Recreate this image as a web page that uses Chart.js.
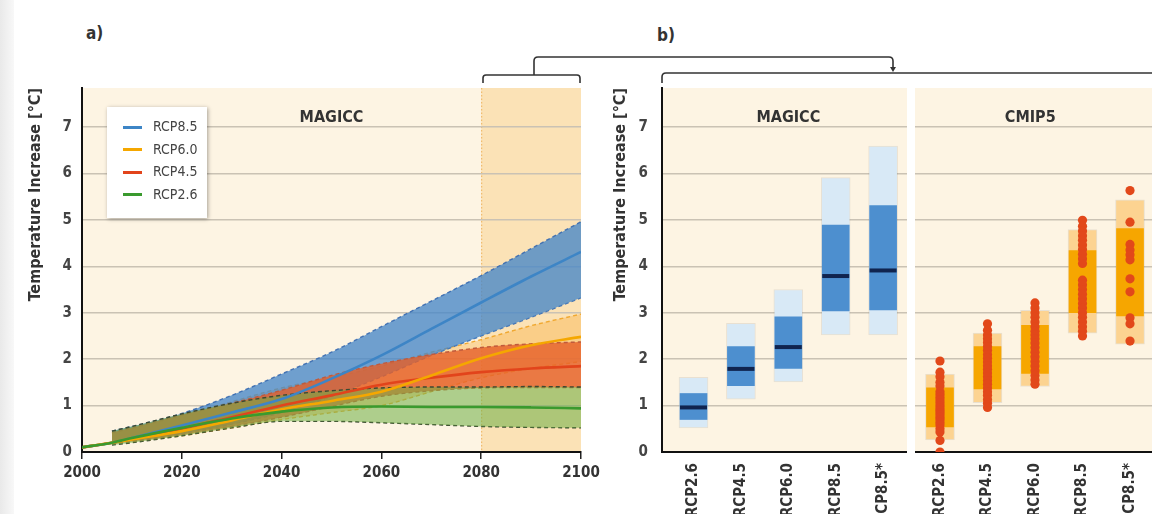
<!DOCTYPE html>
<html>
<head>
<meta charset="utf-8">
<script src="https://cdn.jsdelivr.net/npm/chart.js@4.4.1/dist/chart.umd.min.js"></script>
<style>
  html, body { margin: 0; padding: 0; background: #fff; }
  #page { position: relative; width: 1152px; height: 514px; overflow: hidden; background: #fff;
          font-family: 'Liberation Sans Narrow', 'DejaVu Sans Condensed', 'Noto Sans', sans-serif; }
  .edge { position: absolute; left: 0; top: 0; width: 14px; height: 514px; background: linear-gradient(to right, #e9e9e9, #f8f8f8); }
  .cv { position: absolute; top: 0; }
  .panel-label { position: absolute; font-weight: bold; font-size: 17px; color: #333; }
  #legend { position: absolute; left: 107px; top: 107px; width: 100px; height: 111px; background: #fff;
            box-shadow: 1px 1px 4px rgba(0,0,0,0.35); }
  .lg-item { position: absolute; left: 16px; height: 18px; font-size: 14px; color: #444; line-height: 18px; }
  .lg-item span { display: inline-block; width: 19px; height: 3px; vertical-align: middle; margin-right: 11px; }
</style>
</head>
<body>
<div id="page">
  <div class="edge"></div>
  <div class="panel-label" style="left:86px; top:23px;">a)</div>
  <div class="panel-label" style="left:657px; top:25px;">b)</div>
  <svg width="1152" height="100" style="position:absolute; left:0; top:0;">
    <g fill="none" stroke="#333" stroke-width="1.6">
      <path d="M483 83 V78 Q483 75 486 75 H577 Q580 75 580 78 V83"/>
      <path d="M534 75 V61 Q534 57 538 57 H889 Q893 57 893 61 V68"/>
      <path d="M662 83 V77 Q662 73 666 73 H1152"/>
    </g>
    <path d="M890 67 L893 72 L896 67 Z" fill="#333"/>
  </svg>
  <canvas id="chartA" class="cv" style="left:0px;" width="600" height="514"></canvas>
  <canvas id="chartM" class="cv" style="left:600px;" width="307" height="514"></canvas>
  <canvas id="chartC" class="cv" style="left:915px;" width="260" height="514"></canvas>
  <div id="legend"></div>
</div>
<script>
const FONT = "'Liberation Sans Narrow', 'DejaVu Sans Condensed', 'Noto Sans', sans-serif";

// panel a: MAGICC time series
const years = [2000, 2006, 2010, 2020, 2030, 2040, 2050, 2060, 2070, 2080, 2090, 2100];
const rcp85Mid = [0.1, 0.2, 0.3, 0.57, 0.85, 1.14, 1.58, 2.08, 2.65, 3.22, 3.78, 4.31];
const rcp85Hi = [null, 0.45, 0.55, 0.83, 1.22, 1.68, 2.15, 2.7, 3.25, 3.8, 4.38, 4.96];
const rcp85Lo = [null, 0.2, 0.25, 0.4, 0.6, 0.85, 1.2, 1.62, 2.08, 2.5, 2.9, 3.32];
const rcp60Mid = [0.1, 0.2, 0.27, 0.45, 0.68, 0.92, 1.1, 1.3, 1.65, 2.02, 2.3, 2.48];
const rcp60Hi = [null, 0.4, 0.5, 0.78, 1.08, 1.38, 1.6, 1.85, 2.15, 2.42, 2.72, 2.97];
const rcp60Lo = [null, 0.18, 0.22, 0.35, 0.52, 0.7, 0.85, 1.0, 1.3, 1.6, 1.8, 1.95];
const rcp45Mid = [0.1, 0.2, 0.28, 0.5, 0.75, 1.0, 1.22, 1.45, 1.6, 1.72, 1.8, 1.85];
const rcp45Hi = [null, 0.42, 0.52, 0.8, 1.05, 1.33, 1.65, 1.9, 2.1, 2.25, 2.33, 2.37];
const rcp45Lo = [null, 0.18, 0.23, 0.37, 0.55, 0.75, 0.98, 1.2, 1.32, 1.38, 1.39, 1.39];
const rcp26Mid = [0.1, 0.2, 0.3, 0.52, 0.72, 0.87, 0.96, 0.98, 0.97, 0.97, 0.96, 0.94];
const rcp26Hi = [null, 0.45, 0.55, 0.82, 1.05, 1.22, 1.32, 1.38, 1.4, 1.4, 1.41, 1.4];
const rcp26Lo = [null, 0.15, 0.2, 0.35, 0.52, 0.66, 0.66, 0.63, 0.59, 0.55, 0.53, 0.52];

const legendNames = ['RCP8.5', 'RCP6.0', 'RCP4.5', 'RCP2.6'];
const lineColors = ['#3d85c6', '#f5a700', '#e2441b', '#3a9a2e'];

// panel b: 2081-2100 ranges
const scenarios = ['RCP2.6', 'RCP4.5', 'RCP6.0', 'RCP8.5', 'RCP8.5*'];
const magiccOuterLo = [0.52, 1.14, 1.51, 2.52, 2.52];
const magiccOuterHi = [1.61, 2.77, 3.5, 5.91, 6.59];
const magiccInnerLo = [0.7, 1.43, 1.8, 3.04, 3.06];
const magiccInnerHi = [1.26, 2.27, 2.91, 4.89, 5.31];
const magiccMedian = [0.96, 1.79, 2.26, 3.79, 3.91];

const cmipOuterLo = [0.26, 1.06, 1.41, 2.56, 2.32];
const cmipOuterHi = [1.68, 2.56, 3.05, 4.79, 5.43];
const cmipInnerLo = [0.54, 1.36, 1.69, 3.0, 2.93];
const cmipInnerHi = [1.38, 2.27, 2.73, 4.34, 4.81];
const cmipModels = [
  [1.96, 1.72, 1.62, 1.5, 1.42, 1.3, 1.24, 1.18, 1.12, 1.06, 1.0, 0.95, 0.9, 0.85, 0.8, 0.75, 0.7, 0.64, 0.58, 0.5, 0.43, 0.25, 0.0],
  [2.76, 2.62, 2.52, 2.44, 2.36, 2.27, 2.19, 2.1, 2.02, 1.94, 1.86, 1.78, 1.7, 1.62, 1.54, 1.46, 1.38, 1.3, 1.22, 1.13, 1.05, 0.96],
  [3.21, 3.1, 3.0, 2.9, 2.8, 2.7, 2.6, 2.52, 2.44, 2.35, 2.25, 2.15, 2.05, 1.95, 1.85, 1.75, 1.65, 1.55, 1.46],
  [4.99, 4.86, 4.76, 4.66, 4.56, 4.46, 4.36, 4.26, 4.16, 4.06, 3.7, 3.6, 3.5, 3.4, 3.3, 3.2, 3.1, 3.0, 2.9, 2.8, 2.7, 2.6, 2.5],
  [5.63, 4.95, 4.47, 4.35, 4.25, 4.14, 3.73, 3.45, 2.89, 2.76, 2.39]
];

Chart.defaults.font.family = FONT;
Chart.defaults.animation = false;

const panelDecor = {
  id: 'panelDecor',
  beforeDraw(chart, args, o) {
    const {ctx, chartArea: a, scales} = chart;
    ctx.save();
    ctx.fillStyle = '#fdf4e3';
    ctx.fillRect(a.left, a.top, a.right - a.left, a.bottom - a.top);
    if (o.shadeFrom != null) {
      const x0 = scales.x.getPixelForValue(o.shadeFrom);
      const x1 = scales.x.getPixelForValue(o.shadeTo);
      ctx.fillStyle = '#fbe2b6';
      ctx.fillRect(x0, a.top, x1 - x0, a.bottom - a.top);
      ctx.strokeStyle = '#eeb35c';
      ctx.setLineDash([1.5, 2]);
      ctx.lineWidth = 1;
      ctx.beginPath();
      ctx.moveTo(x0 + 0.5, a.top);
      ctx.lineTo(x0 + 0.5, a.bottom);
      ctx.stroke();
    }
    ctx.restore();
  },
  beforeDatasetsDraw(chart, args, o) {
    if (!o.title) return;
    const {ctx, chartArea: a, scales} = chart;
    ctx.save();
    ctx.font = 'bold 16px ' + FONT;
    ctx.fillStyle = '#333';
    ctx.textAlign = 'center';
    ctx.textBaseline = 'middle';
    ctx.fillText(o.title, scales.x.getPixelForValue(o.titleX), a.top + 30);
    ctx.restore();
  }
};

const intTicks = (scale) => { scale.ticks = [0, 1, 2, 3, 4, 5, 6, 7].map((v) => ({value: v})); };

function yAxis(width, withTitle, titlePad) {
  return {
    type: 'linear', min: 0, max: 7.84,
    afterBuildTicks: intTicks,
    afterFit: (s) => { s.width = width; s.paddingTop = 0; s.paddingBottom = 0; },
    grid: {color: '#cac2b4', lineWidth: 1.5, drawTicks: false},
    border: {display: withTitle, color: '#111', width: 2},
    ticks: {display: withTitle, padding: titlePad.tick, color: '#444', font: {size: 15, weight: 'bold'}},
    title: {display: withTitle, text: 'Temperature Increase [°C]', align: 'end', color: '#333',
            font: {size: 16, weight: 'bold'}, padding: {top: titlePad.title, bottom: 0}}
  };
}

function pts(arr) {
  return arr.map((v, i) => ({x: years[i], y: v}));
}

function band(hi, lo, fillColor, edgeColor, order) {
  const edge = {borderColor: edgeColor, borderWidth: 1.4, borderDash: [4, 3], pointRadius: 0,
                cubicInterpolationMode: 'monotone', order: order};
  return [
    Object.assign({data: pts(hi), fill: '+1', backgroundColor: fillColor}, edge),
    Object.assign({data: pts(lo), fill: false}, edge)
  ];
}

function median(arr, color, order) {
  return {data: pts(arr), borderColor: color, borderWidth: 2.6, pointRadius: 0, fill: false,
          cubicInterpolationMode: 'monotone', order: order};
}

new Chart(document.getElementById('chartA'), {
  type: 'line',
  data: {
    datasets: [].concat(
      band(rcp60Hi, rcp60Lo, 'rgba(250,185,90,0.5)', '#f0a830', 40),
      band(rcp85Hi, rcp85Lo, 'rgba(70,135,200,0.78)', 'rgba(55,105,175,0.9)', 30),
      band(rcp45Hi, rcp45Lo, 'rgba(230,95,40,0.8)', '#c05a3c', 20),
      band(rcp26Hi, rcp26Lo, 'rgba(110,175,70,0.55)', '#3c4a32', 10),
      [median(rcp85Mid, lineColors[0], 4), median(rcp45Mid, lineColors[2], 3),
       median(rcp60Mid, lineColors[1], 2), median(rcp26Mid, lineColors[3], 1)]
    )
  },
  options: {
    responsive: false,
    layout: {autoPadding: false, padding: {top: 88, right: 19, bottom: 0, left: 0}},
    plugins: {legend: {display: false}, tooltip: {enabled: false},
              panelDecor: {title: 'MAGICC', titleX: 2050, shadeFrom: 2080, shadeTo: 2100}},
    scales: {
      x: {
        type: 'linear', min: 2000, max: 2100,
        afterFit: (s) => { s.height = 62; s.paddingLeft = 0; s.paddingRight = 0; },
        grid: {drawOnChartArea: false, drawTicks: true, tickLength: 7, color: '#222', lineWidth: 1.5},
        border: {color: '#111', width: 2},
        ticks: {stepSize: 20, padding: 5, color: '#333', font: {size: 15, weight: 'bold'}, callback: (v) => v}
      },
      y: yAxis(82, true, {tick: 10, title: 26})
    }
  },
  plugins: [panelDecor]
});

function boxChart(id, opts) {
  const datasets = [
    {type: 'bar', data: scenarios.map((s, i) => ({x: i, y: [opts.outerLo[i], opts.outerHi[i]]})),
     backgroundColor: opts.light, borderColor: 'rgba(0,0,0,0.08)', borderWidth: 1, borderSkipped: false,
     barThickness: 29, grouped: false, order: 5},
    {type: 'bar', data: scenarios.map((s, i) => ({x: i, y: [opts.innerLo[i], opts.innerHi[i]]})),
     backgroundColor: opts.dark, barThickness: 27, grouped: false, order: 4}
  ];
  if (opts.median) {
    datasets.push({type: 'scatter', data: opts.median.map((v, i) => ({x: i, y: v})),
                   pointStyle: 'line', pointRadius: 13.5, borderColor: '#10244f', borderWidth: 4, order: 1});
  }
  if (opts.models) {
    const dots = [];
    opts.models.forEach((list, i) => list.forEach((v) => dots.push({x: i, y: v})));
    datasets.push({type: 'scatter', data: dots, pointRadius: 4.6, backgroundColor: '#e2481a',
                   borderWidth: 0, order: 1});
  }
  return new Chart(document.getElementById(id), {
    type: 'bar',
    data: {datasets: datasets},
    options: {
      responsive: false,
      layout: {autoPadding: false, padding: {top: 88, right: 0, bottom: 0, left: 0}},
      plugins: {legend: {display: false}, tooltip: {enabled: false},
                panelDecor: {title: opts.title, titleX: opts.titleX}},
      scales: {
        x: {
          type: 'linear', min: opts.xMin, max: opts.xMax, offset: false,
          afterBuildTicks: (s) => { s.ticks = scenarios.map((n, i) => ({value: i})); },
          afterFit: (s) => { s.height = 62; s.paddingLeft = 0; s.paddingRight = 0; },
          grid: {drawOnChartArea: false, drawTicks: false, offset: false},
          border: {color: '#111', width: 2},
          ticks: {autoSkip: false, minRotation: 90, maxRotation: 90, padding: 11, color: '#333',
                  font: {size: 15, weight: 'bold'}, callback: (v) => scenarios[v]}
        },
        y: opts.showY ? yAxis(62, true, {tick: 14, title: 11}) : yAxis(0, false, {tick: 0, title: 0})
      }
    },
    plugins: [panelDecor]
  });
}

boxChart('chartM', {
  title: 'MAGICC', titleX: 2, xMin: -0.665, xMax: 4.504, showY: true,
  outerLo: magiccOuterLo, outerHi: magiccOuterHi, innerLo: magiccInnerLo, innerHi: magiccInnerHi,
  median: magiccMedian, light: '#d8e9f6', dark: '#4d8fcf'
});

boxChart('chartC', {
  title: 'CMIP5', titleX: 1.9, xMin: -0.526, xMax: 4.947, showY: false,
  outerLo: cmipOuterLo, outerHi: cmipOuterHi, innerLo: cmipInnerLo, innerHi: cmipInnerHi,
  models: cmipModels, light: '#fcd391', dark: '#f6a600'
});

// legend for panel a
const legend = document.getElementById('legend');
legendNames.forEach((name, i) => {
  const item = document.createElement('div');
  item.className = 'lg-item';
  item.style.top = (10 + i * 22.5) + 'px';
  item.innerHTML = '<span style="background:' + lineColors[i] + '"></span>' + name;
  legend.appendChild(item);
});
</script>
</body>
</html>
